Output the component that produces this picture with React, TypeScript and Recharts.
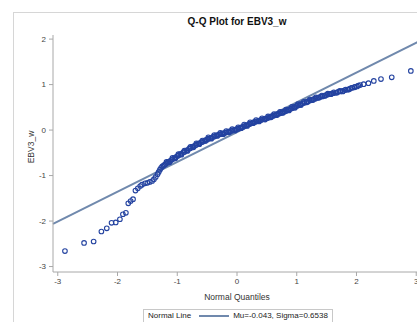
import React from 'react'
import {
  ScatterChart,
  Scatter,
  XAxis,
  YAxis,
  ReferenceLine,
} from 'recharts'

/* ---------- data ---------- */

// lower tail (normal quantile, EBV3_w)
const TAIL_LOW_Q = [-2.88, -2.56, -2.40, -2.27, -2.18, -2.10, -2.03, -1.96, -1.91, -1.86, -1.82, -1.78, -1.74, -1.70, -1.66, -1.62, -1.59, -1.54, -1.50, -1.46, -1.42, -1.39, -1.36, -1.33, -1.31, -1.29, -1.27, -1.25, -1.23, -1.21, -1.19]
const TAIL_LOW_V = [-2.66, -2.48, -2.45, -2.23, -2.16, -2.04, -2.03, -1.96, -1.85, -1.82, -1.61, -1.56, -1.52, -1.33, -1.28, -1.23, -1.20, -1.17, -1.16, -1.14, -1.12, -1.08, -1.03, -0.97, -0.92, -0.87, -0.83, -0.80, -0.78, -0.76, -0.74]

// dense middle part
const MID_Q = [
  -1.17, -1.15, -1.12, -1.10, -1.08, -1.05, -1.03, -1.00, -0.98, -0.95, -0.93, -0.90, -0.88, -0.85, -0.83, -0.80,
  -0.78, -0.75, -0.73, -0.70, -0.68, -0.65, -0.63, -0.60, -0.58, -0.55, -0.53, -0.50, -0.48, -0.45, -0.43, -0.40,
  -0.38, -0.35, -0.33, -0.30, -0.28, -0.25, -0.23, -0.20, -0.18, -0.15, -0.13, -0.10, -0.08, -0.05, -0.03, 0.00,
  0.02, 0.05, 0.07, 0.10, 0.12, 0.15, 0.17, 0.20, 0.22, 0.25, 0.27, 0.30, 0.32, 0.35, 0.37, 0.40,
  0.42, 0.45, 0.47, 0.50, 0.52, 0.55, 0.57, 0.60, 0.62, 0.65, 0.67, 0.70, 0.72, 0.75, 0.77, 0.80,
  0.82, 0.85, 0.87, 0.90, 0.92, 0.95, 0.97, 1.00, 1.02, 1.05, 1.07, 1.10, 1.13, 1.16, 1.19, 1.22,
  1.25, 1.28, 1.31, 1.34, 1.37, 1.40, 1.43, 1.46, 1.49, 1.52, 1.55, 1.58, 1.61, 1.65, 1.69, 1.73,
  1.77, 1.81, 1.85, 1.89, 1.93, 1.97, 2.01, 2.06,
]
const MID_V = [
  -0.72, -0.70, -0.68, -0.66, -0.64, -0.62, -0.60, -0.57, -0.56, -0.53, -0.52, -0.49, -0.48, -0.45, -0.44, -0.41,
  -0.40, -0.37, -0.36, -0.34, -0.32, -0.30, -0.29, -0.27, -0.26, -0.24, -0.22, -0.21, -0.19, -0.18, -0.17, -0.15,
  -0.14, -0.12, -0.11, -0.10, -0.09, -0.08, -0.07, -0.06, -0.05, -0.04, -0.03, -0.02, -0.01, 0.00, 0.01, 0.02,
  0.03, 0.05, 0.06, 0.07, 0.09, 0.10, 0.11, 0.13, 0.14, 0.15, 0.17, 0.18, 0.19, 0.20, 0.21, 0.22,
  0.23, 0.24, 0.25, 0.26, 0.27, 0.28, 0.30, 0.31, 0.32, 0.33, 0.35, 0.36, 0.37, 0.38, 0.40, 0.41,
  0.42, 0.44, 0.45, 0.47, 0.48, 0.50, 0.51, 0.53, 0.54, 0.56, 0.57, 0.59, 0.60, 0.62, 0.63, 0.65,
  0.66, 0.68, 0.69, 0.71, 0.72, 0.73, 0.74, 0.76, 0.77, 0.78, 0.79, 0.80, 0.81, 0.82, 0.84, 0.85,
  0.86, 0.88, 0.89, 0.91, 0.93, 0.95, 0.96, 0.99,
]

// more observations inside the dense band (spread a little above and below)
const MID2_Q = [
  -1.18, -1.13, -1.08, -1.03, -0.98, -0.93, -0.88, -0.83, -0.78, -0.73, -0.68, -0.63, -0.58, -0.53, -0.48, -0.43,
  -0.38, -0.33, -0.28, -0.23, -0.18, -0.13, -0.08, -0.03, 0.02, 0.07, 0.12, 0.17, 0.22, 0.27, 0.32, 0.37,
  0.42, 0.47, 0.52, 0.57, 0.62, 0.67, 0.72, 0.77, 0.82, 0.87, 0.92, 0.97, 1.02, 1.07, 1.12, 1.17,
  1.22, 1.27, 1.32, 1.37, 1.42, 1.47, 1.52, 1.57, 1.62, 1.67, 1.72, 1.77, 1.82, 1.87, 1.92, 1.97, 2.03,
]
const MID2_V = [
  -0.70, -0.71, -0.61, -0.62, -0.53, -0.54, -0.45, -0.46, -0.37, -0.38, -0.29, -0.31, -0.23, -0.24, -0.16, -0.19,
  -0.11, -0.13, -0.06, -0.09, -0.02, -0.05, 0.02, -0.01, 0.06, 0.04, 0.12, 0.09, 0.17, 0.15, 0.22, 0.19,
  0.26, 0.23, 0.30, 0.28, 0.35, 0.33, 0.40, 0.38, 0.45, 0.43, 0.51, 0.49, 0.57, 0.55, 0.62, 0.61,
  0.67, 0.66, 0.72, 0.71, 0.76, 0.75, 0.80, 0.79, 0.83, 0.82, 0.86, 0.85, 0.89, 0.89, 0.93, 0.94, 0.98,
]

// upper tail
const TAIL_HIGH_Q = [2.12, 2.20, 2.29, 2.41, 2.59, 2.91]
const TAIL_HIGH_V = [1.01, 1.03, 1.08, 1.12, 1.16, 1.30]

// normal reference line, end points at the plot edges
const LINE_Q = [-3.08, 3.08]
const LINE_V = [-2.06, 1.97]

const X_TICKS = [-3, -2, -1, 0, 1, 2, 3]
const Y_TICKS = [-3, -2, -1, 0, 1, 2]

const MARKER = '#2443a0'
const LINE = '#7089ad'
const FRAME = '#c4c4c4'
const FONT = '"Liberation Sans", Arial, sans-serif'

const points = [
  ...TAIL_LOW_Q.map((q, i) => ({ q, v: TAIL_LOW_V[i] })),
  ...MID_Q.map((q, i) => ({ q, v: MID_V[i] })),
  ...MID2_Q.map((q, i) => ({ q, v: MID2_V[i] })),
  ...TAIL_HIGH_Q.map((q, i) => ({ q, v: TAIL_HIGH_V[i] })),
]

function OpenCircle(props: { cx?: number; cy?: number }) {
  const { cx = 0, cy = 0 } = props
  return <circle cx={cx} cy={cy} r={2.3} fill="none" stroke={MARKER} strokeWidth={1.1} />
}

const tickStyle = { fontSize: 8, fill: '#444', fontFamily: FONT }

export default function App() {
  return (
    <div style={{ position: 'fixed', left: 0, top: 0, width: 417, height: 322, overflow: 'hidden', background: '#fff' }}>
      <div
        style={{
          position: 'absolute',
          left: 13,
          top: 12,
          width: 470,
          height: 330,
          border: '1px solid #d6d6d6',
          fontFamily: FONT,
        }}
      >
        <div
          style={{
            position: 'absolute',
            left: 39,
            width: 368,
            top: 3,
            textAlign: 'center',
            fontSize: 10,
            fontWeight: 'bold',
            color: '#111',
          }}
        >
          Q-Q Plot for EBV3_w
        </div>

        <ScatterChart width={460} height={320} margin={{ top: 22, right: 53, bottom: 21, left: 0 }}>
          <XAxis xAxisId="top" orientation="top" type="number" domain={[-3.08, 3.08]} height={0} tick={false} tickLine={false} axisLine={{ stroke: FRAME }} />
          <YAxis yAxisId="right" orientation="right" type="number" domain={[-3.12, 2.09]} width={0} tick={false} tickLine={false} axisLine={{ stroke: FRAME }} />
          <XAxis
            type="number"
            dataKey="q"
            domain={[-3.08, 3.08]}
            ticks={X_TICKS}
            allowDataOverflow
            height={40}
            tickSize={4}
            tickMargin={2}
            tick={tickStyle}
            stroke="#a8a8a8"
            label={(p: any) => (
              <text
                x={p.viewBox.x + p.viewBox.width / 2}
                y={p.viewBox.y + 28}
                textAnchor="middle"
                fontSize={8.5}
                fill="#333"
                fontFamily={FONT}
              >
                Normal Quantiles
              </text>
            )}
          />
          <YAxis
            type="number"
            dataKey="v"
            domain={[-3.12, 2.09]}
            ticks={Y_TICKS}
            allowDataOverflow
            width={39}
            tickSize={4}
            tickMargin={3}
            tick={tickStyle}
            stroke="#a8a8a8"
            label={() => (
              <text
                x={17}
                y={134}
                transform="rotate(-90 17 134)"
                textAnchor="middle"
                dominantBaseline="central"
                fontSize={8.5}
                fill="#333"
                fontFamily={FONT}
              >
                EBV3_w
              </text>
            )}
          />
          <Scatter data={points} shape={<OpenCircle />} isAnimationActive={false} />
          <ReferenceLine
            segment={[
              { x: LINE_Q[0], y: LINE_V[0] },
              { x: LINE_Q[1], y: LINE_V[1] },
            ]}
            stroke={LINE}
            strokeWidth={2}
          />
        </ScatterChart>

        <div
          style={{
            position: 'absolute',
            left: 129,
            top: 296,
            display: 'flex',
            alignItems: 'center',
            border: '1px solid #c8c8c8',
            padding: '1px 4px 2px 4px',
            fontSize: 8,
            color: '#222',
            whiteSpace: 'nowrap',
          }}
        >
          <span>Normal Line</span>
          <span style={{ display: 'inline-block', width: 30, height: 2, background: LINE, margin: '0 4px 0 8px' }} />
          <span>Mu=-0.043, Sigma=0.6538</span>
        </div>
      </div>
    </div>
  )
}
